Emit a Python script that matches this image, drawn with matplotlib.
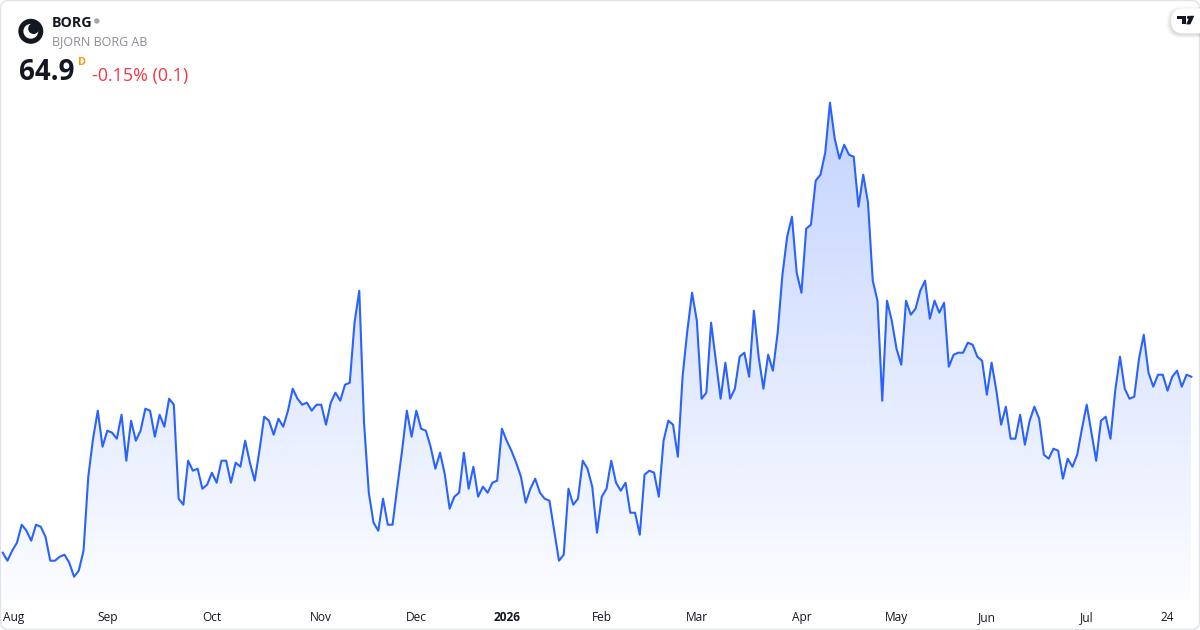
import matplotlib
matplotlib.use('Agg')
import matplotlib.pyplot as plt
import matplotlib.transforms as mtransforms
from matplotlib.patches import FancyBboxPatch, Circle, Polygon, PathPatch, Rectangle
from matplotlib.path import Path
import numpy as np

# ---------------- data ----------------
ticker = 'BORG'
company = 'BJORN BORG AB'
last_price = '64.9'
interval = 'D'
change_text = '-0.15% (0.1)'

prices = [
    56.1, 55.7, 56.2, 56.6, 57.5, 57.2, 56.7, 57.5, 57.4, 56.9,
    55.7, 55.7, 55.9, 56.0, 55.6, 54.9, 55.2, 56.2, 59.9, 61.8,
    63.2, 61.4, 62.2, 62.1, 61.8, 63.0, 60.7, 62.7, 61.7, 62.2,
    63.3, 63.2, 61.9, 63.0, 62.4, 63.8, 63.5, 58.8, 58.5, 60.7,
    60.2, 60.3, 59.3, 59.5, 60.1, 59.6, 60.7, 60.7, 59.6, 60.6,
    60.4, 61.7, 60.6, 59.7, 61.2, 62.9, 62.7, 62.0, 62.8, 62.4,
    63.2, 64.3, 63.8, 63.5, 63.6, 63.2, 63.5, 63.5, 62.5, 63.6,
    64.1, 63.7, 64.5, 64.6, 67.6, 69.2, 62.6, 59.1, 57.6, 57.2,
    58.8, 57.5, 57.5, 59.4, 61.2, 63.2, 61.9, 63.2, 62.3, 62.2,
    61.4, 60.3, 61.1, 60.0, 58.3, 58.9, 59.1, 61.1, 59.3, 60.4,
    58.9, 59.4, 59.1, 59.6, 59.7, 62.3, 61.7, 61.2, 60.6, 59.9,
    58.6, 59.3, 59.8, 59.1, 58.8, 58.7, 57.2, 55.7, 56.0, 59.3,
    58.5, 58.8, 60.7, 60.3, 59.4, 57.1, 58.9, 59.3, 60.7, 59.6,
    59.2, 59.6, 58.1, 58.1, 57.0, 60.0, 60.2, 60.1, 58.9, 61.7,
    62.7, 62.5, 60.9, 64.9, 67.2, 69.1, 67.7, 63.8, 64.1, 67.6,
    65.7, 63.8, 65.6, 63.8, 64.3, 65.9, 66.1, 64.9, 68.2, 65.9,
    64.3, 66.0, 65.2, 67.1, 70.0, 71.9, 72.9, 70.1, 69.1, 72.3,
    72.5, 74.7, 75.0, 76.1, 78.6, 76.8, 75.8, 76.5, 76.0, 75.9,
    73.4, 75.0, 73.6, 69.7, 68.7, 63.7, 68.7, 67.7, 66.3, 65.5,
    68.7, 68.0, 68.3, 69.2, 69.7, 67.8, 68.7, 68.1, 68.6, 65.4,
    66.0, 66.1, 66.1, 66.6, 66.5, 65.9, 65.7, 64.0, 65.6, 64.2,
    62.5, 63.4, 61.8, 61.8, 63.0, 61.5, 62.7, 63.4, 62.8, 61.0,
    60.8, 61.3, 61.2, 59.8, 60.8, 60.4, 61.0, 62.3, 63.5, 62.1,
    60.7, 62.7, 62.9, 61.8, 64.2, 65.9, 64.3, 63.8, 63.9, 65.8,
    67.0, 65.1, 64.4, 65.0, 65.0, 64.2, 64.9, 65.2, 64.4, 65.0,
    64.9,
]

tick_labels = ['Aug', 'Sep', 'Oct', 'Nov', 'Dec', '2026', 'Feb', 'Mar',
               'Apr', 'May', 'Jun', 'Jul', '24']
tick_bar_index = [0, 22, 44, 67, 87, 106, 126, 146, 168, 188, 207, 228, 245]
bold_ticks = ['2026']

# ---------------- style ----------------
W, H, DPI = 1200, 630, 100
FONT = ['Open Sans', 'DejaVu Sans']
plt.rcParams['font.family'] = FONT
LINE = '#2962FF'
TEXT = '#131722'

fig = plt.figure(figsize=(W / DPI, H / DPI), dpi=DPI)
fig.patch.set_facecolor('white')

# pixel transform (origin top-left)
pix = mtransforms.Affine2D().scale(1 / DPI, -1 / DPI).translate(0, H / DPI) + fig.dpi_scale_trans


def fx(px):
    return px / W


def fy(py):
    return 1 - py / H


# ---------------- chart ----------------
left_px, right_px, top_px, bot_px = 2.7, 1191.3, 90, 600
ax = fig.add_axes([fx(left_px), fy(bot_px), fx(right_px) - fx(left_px), fy(top_px) - fy(bot_px)])
ax.set_facecolor('none')
ax.axis('off')

x = np.arange(len(prices))
y = np.array(prices)
ylo, yhi = 53.735, 79.235

fill = ax.fill_between(x, y, ylo, facecolor='none', edgecolor='none', lw=0)
clip_patch = PathPatch(fill.get_paths()[0], transform=ax.transData, facecolor='none', edgecolor='none')
ax.add_patch(clip_patch)

n = 256
alpha = np.linspace(0.015, 0.28, n)
rgba = np.zeros((n, 1, 4))
rgba[..., 0] = 41 / 255
rgba[..., 1] = 98 / 255
rgba[..., 2] = 1.0
rgba[:, 0, 3] = alpha
im = ax.imshow(rgba, extent=[x[0], x[-1], ylo, y.max()], origin='lower',
               aspect='auto', interpolation='bilinear', zorder=1)
im.set_clip_path(clip_patch)

ax.plot(x, y, color=LINE, lw=1.5, zorder=3, clip_on=False, solid_joinstyle='round')
ax.set_xlim(x[0], x[-1])
ax.set_ylim(ylo, yhi)

# time axis labels
bt = mtransforms.blended_transform_factory(ax.transData, fig.transFigure)
for i, (lab, idx) in enumerate(zip(tick_labels, tick_bar_index)):
    ha = 'left' if i == 0 else 'center'
    ax.text(idx, fy(617.5), lab, transform=bt, ha=ha, va='center',
            fontsize=8.6, color=TEXT,
            fontweight='bold' if lab in bold_ticks else 'normal', clip_on=False)

# ---------------- card border ----------------
card = FancyBboxPatch((0.5, 0.5), W - 1, H - 1, boxstyle='round,pad=0,rounding_size=8',
                      transform=pix, facecolor='none', edgecolor='#E0E3EB', lw=1.0)
fig.add_artist(card)

# ---------------- header ----------------
fig.add_artist(Circle((30.8, 31.3), 12.5, transform=pix, facecolor='#131722', edgecolor='none'))
fig.add_artist(Circle((30.8, 31.3), 7.4, transform=pix, facecolor='white', edgecolor='none'))
fig.add_artist(Circle((33.6, 28.6), 5.4, transform=pix, facecolor='#131722', edgecolor='none'))

fig.text(fx(51.5), fy(26.7), ticker, fontsize=10.3, fontweight='bold', color=TEXT, va='baseline')
fig.add_artist(Circle((96.8, 21.0), 2.7, transform=pix, facecolor='#A3A6AF', edgecolor='none'))
fig.text(fx(51.5), fy(45.2), company, fontsize=9.0, color='#8A8D96', va='baseline')

fig.text(fx(18.5), fy(80.3), last_price, fontsize=20.0, fontweight='bold', color=TEXT, va='baseline')
fig.text(fx(77.8), fy(65.2), interval, fontsize=7.8, fontweight='bold', color='#FF9800', va='baseline')
fig.text(fx(91.5), fy(80.8), change_text, fontsize=12.9, color='#F23645', va='baseline')

# ---------------- TradingView badge ----------------
for k, a in enumerate([0.05, 0.04, 0.03]):
    sh = FancyBboxPatch((1171 - 1.5 * (k + 1), 8.3 - 1.0 * (k + 1) + 1.5), 45, 25 + 2.0 * (k + 1),
                        boxstyle='round,pad=0,rounding_size=%.1f' % (12.5 + k),
                        transform=pix, facecolor='black', edgecolor='none', alpha=a)
    fig.add_artist(sh)
badge = FancyBboxPatch((1171, 8.3), 45, 25, boxstyle='round,pad=0,rounding_size=12.5',
                       transform=pix, facecolor='white', edgecolor='none')
fig.add_artist(badge)
fig.add_artist(Rectangle((1177.3, 15.8), 8.7, 3.4, transform=pix, facecolor=TEXT, edgecolor='none'))
fig.add_artist(Rectangle((1181.8, 15.8), 4.2, 8.6, transform=pix, facecolor=TEXT, edgecolor='none'))
fig.add_artist(Circle((1188.6, 17.4), 1.6, transform=pix, facecolor=TEXT, edgecolor='none'))
fig.add_artist(Polygon([(1190.0, 15.8), (1194.3, 15.8), (1190.4, 24.4), (1186.2, 24.4)],
                       closed=True, transform=pix, facecolor=TEXT, edgecolor='none'))

fig.savefig('out.png', dpi=DPI, facecolor='white')
